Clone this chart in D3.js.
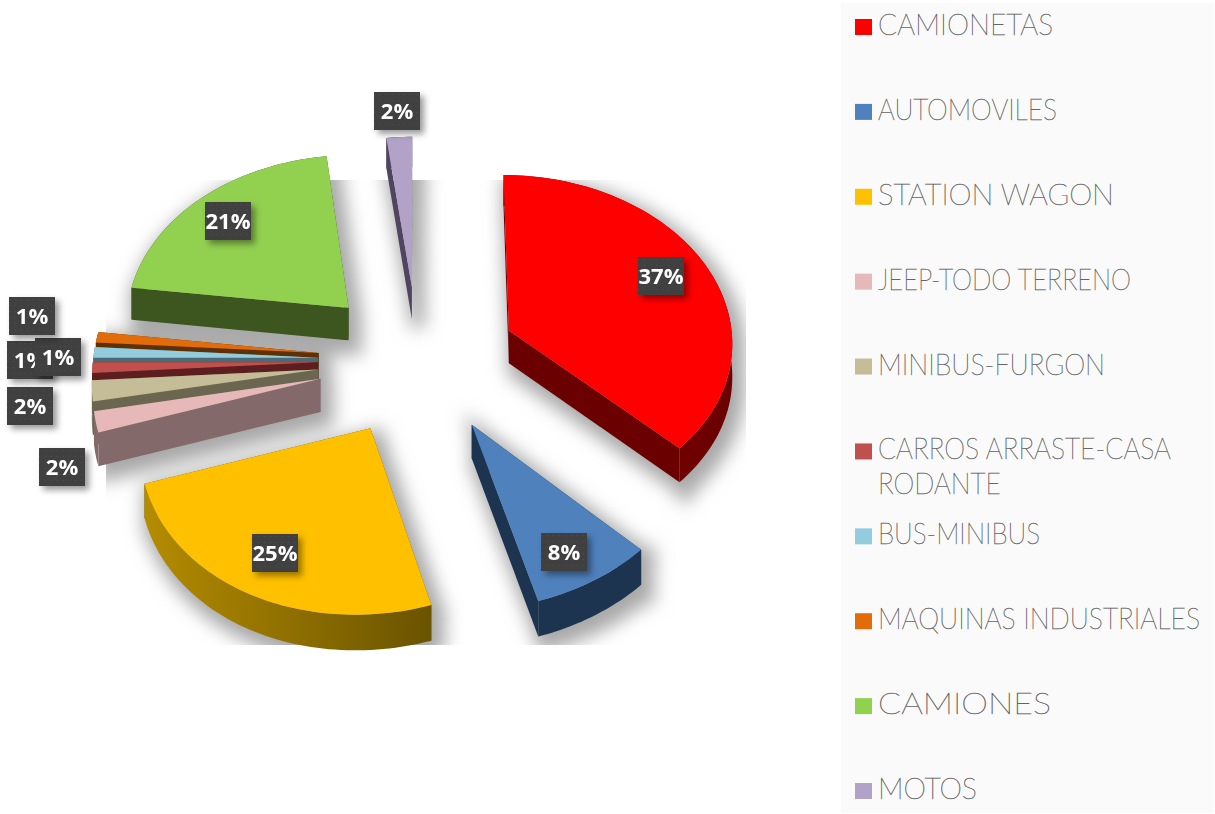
<!DOCTYPE html>
<html>
<head>
<meta charset="utf-8">
<script src="https://cdn.jsdelivr.net/npm/d3@7"></script>
<style>
  html, body { margin: 0; padding: 0; background: #fff; }
  svg { display: block; }
</style>
</head>
<body>
<div id="chart"></div>
<script>
var categories = ['CAMIONETAS', 'AUTOMOVILES', 'STATION WAGON', 'JEEP-TODO TERRENO', 'MINIBUS-FURGON',
  'CARROS ARRASTE-CASA RODANTE', 'BUS-MINIBUS', 'MAQUINAS INDUSTRIALES', 'CAMIONES', 'MOTOS'];
var values = [37, 8, 25, 2, 2, 1, 1, 1, 21, 2];
var colors = ['#ff0000', '#4f81bd', '#ffc000', '#e6b9b8', '#c4bd97', '#c0504d', '#93cddd', '#e36c0a', '#92d050', '#b2a2c7'];
var wallColors = ['#6a0000', '#1d3450', '#6a5300', '#84696a', '#6a664f', '#5c1e1f', '#4a6a75', '#5e3005', '#3d5620', '#4f4560'];
var wallLight = ['#800000', '#1d3450', '#b48c00', '#84696a', '#6a664f', '#5c1e1f', '#4a6a75', '#5e3005', '#3d5620', '#4f4560'];
// data labels were dragged around by hand in the original, so they are placed by hand here
var labelSpots = [[661, 276], [564, 552], [275, 553], [62, 467], [30, 406], [30, 360], [58, 357], [32, 316], [228, 221], [397, 111]];
// the original legend font is not installed, so fit each line to its width
var legendLines = [['CAMIONETAS'], ['AUTOMOVILES'], ['STATION WAGON'], ['JEEP-TODO TERRENO'], ['MINIBUS-FURGON'],
  ['CARROS ARRASTE-CASA', 'RODANTE'], ['BUS-MINIBUS'], ['MAQUINAS INDUSTRIALES'], ['CAMIONES'], ['MOTOS']];
var legendWidths = [[175], [179], [236], [253], [227], [293, 123], [162], [322], [173], [99]];

let width = 1215;
let height = 814;
let cx = 418, cy = 360;
let R = 225, tilt = 0.75, persp = 0.058, skew = 7;
let explode = 100, depth = 33;

let svg = d3.select('#chart').append('svg')
  .attr('width', width)
  .attr('height', height);

let defs = svg.append('defs');

defs.append('filter').attr('id', 'softShadow')
  .attr('x', '-20%').attr('y', '-20%').attr('width', '140%').attr('height', '140%')
  .append('feGaussianBlur').attr('stdDeviation', 9);

let labelShadow = defs.append('filter').attr('id', 'labelShadow')
  .attr('x', '-40%').attr('y', '-40%').attr('width', '190%').attr('height', '190%');
labelShadow.append('feDropShadow')
  .attr('dx', 4).attr('dy', 4).attr('stdDeviation', 3)
  .attr('flood-color', '#000').attr('flood-opacity', 0.4);

let dots = defs.append('pattern').attr('id', 'labelDots')
  .attr('width', 6).attr('height', 6).attr('patternUnits', 'userSpaceOnUse');
dots.append('rect').attr('width', 6).attr('height', 6).attr('fill', '#3f3f3f');
dots.append('circle').attr('cx', 1.5).attr('cy', 1.5).attr('r', 0.8).attr('fill', '#4e4e4e');

defs.append('clipPath').attr('id', 'shadowClip')
  .append('rect').attr('x', 106).attr('y', 180).attr('width', 640).attr('height', 465);

let pie = d3.pie().sort(null).startAngle(0).endAngle(2 * Math.PI);
let slices = pie(values);
let toPath = d3.line();

// flat pie coords -> screen, a little bigger toward the front
function project(d, r, a, z) {
  let mid = (d.startAngle + d.endAngle) / 2;
  let x = explode * Math.sin(mid) + r * Math.sin(a);
  let y = -explode * Math.cos(mid) - r * Math.cos(a);
  let s = 1 + persp * y / R;
  let lean = y > 0 ? skew * y * y / (R * R) : 0;
  return [cx + x * s - lean, cy + y * tilt * s + z * s];
}

function arcPoints(d, z) {
  let n = Math.max(4, Math.ceil((d.endAngle - d.startAngle) * 40));
  return d3.range(n + 1).map(i => {
    let a = d.startAngle + (d.endAngle - d.startAngle) * i / n;
    return project(d, R, a, z);
  });
}

function topFace(d) {
  return toPath([project(d, 0, 0, 0)].concat(arcPoints(d, 0))) + 'Z';
}
function outerWall(d) {
  return toPath(arcPoints(d, 0).concat(arcPoints(d, depth).reverse())) + 'Z';
}
function radialWall(d, a) {
  return toPath([
    project(d, 0, 0, 0), project(d, R, a, 0),
    project(d, R, a, depth), project(d, 0, 0, depth)
  ]) + 'Z';
}

// have to paint back to front because svg has no z-index
let paintOrder = [9, 8, 7, 6, 5, 4, 3, 0, 1, 2];

// soft grey shadow, cut off square like the original picture
let shadow = svg.append('g').attr('clip-path', 'url(#shadowClip)')
  .append('g').attr('filter', 'url(#softShadow)');
slices.forEach(d => {
  [topFace(d), outerWall(d), radialWall(d, d.startAngle), radialWall(d, d.endAngle)].forEach(p => {
    shadow.append('path').attr('d', p)
      .attr('transform', 'translate(6,8)')
      .attr('fill', '#a8a8a8').attr('stroke', '#a8a8a8').attr('stroke-width', 14);
  });
});

slices.forEach((d, i) => {
  let grad = defs.append('linearGradient').attr('id', 'wall' + i);
  grad.append('stop').attr('offset', '0%').attr('stop-color', wallLight[i]);
  grad.append('stop').attr('offset', '100%').attr('stop-color', wallColors[i]);
});

let pieG = svg.append('g');
paintOrder.forEach(i => {
  let d = slices[i];
  let g = pieG.append('g');
  g.append('path').attr('d', radialWall(d, d.startAngle)).attr('fill', wallColors[i]);
  g.append('path').attr('d', radialWall(d, d.endAngle)).attr('fill', wallColors[i]);
  g.append('path').attr('d', outerWall(d)).attr('fill', 'url(#wall' + i + ')');
  g.append('path').attr('d', topFace(d)).attr('fill', colors[i]);
});

// data labels
let labels = svg.append('g').selectAll('g')
  .data(slices)
  .enter()
  .append('g')
  .attr('transform', (d, i) => 'translate(' + labelSpots[i][0] + ',' + labelSpots[i][1] + ')');
labels.append('rect')
  .attr('x', -23).attr('y', -19).attr('width', 46).attr('height', 38)
  .attr('fill', 'url(#labelDots)')
  .attr('filter', 'url(#labelShadow)');
labels.append('text')
  .attr('text-anchor', 'middle')
  .attr('y', 8)
  .attr('fill', '#fff')
  .attr('font-family', '"Open Sans", sans-serif')
  .attr('font-weight', 700)
  .attr('font-size', 22)
  .text(d => d.value + '%');

// legend panel
svg.append('rect')
  .attr('x', 841).attr('y', 3).attr('width', 373).attr('height', 810)
  .attr('fill', '#fafafa');

let legendY = d3.scaleLinear().domain([0, categories.length - 1]).range([35, 799]);
let legendRows = svg.append('g').selectAll('g')
  .data(categories)
  .enter()
  .append('g')
  .attr('transform', (d, i) => 'translate(0,' + legendY(i) + ')');
legendRows.append('rect')
  .attr('x', 855).attr('y', -16).attr('width', 17).attr('height', 16)
  .attr('fill', (d, i) => colors[i]);
legendRows.append('text')
  .attr('fill', '#555')
  .attr('stroke', '#666')
  .attr('stroke-width', 0.45)
  .attr('font-family', 'Lato, sans-serif')
  .attr('font-weight', 100)
  .attr('font-size', 30)
  .each(function(d, i) {
    d3.select(this).selectAll('tspan')
      .data(legendLines[i])
      .enter()
      .append('tspan')
      .attr('x', 878)
      .attr('y', (l, j) => j * 35)
      .attr('textLength', (l, j) => legendWidths[i][j])
      .attr('lengthAdjust', 'spacingAndGlyphs')
      .text(l => l);
  });
</script>
</body>
</html>
